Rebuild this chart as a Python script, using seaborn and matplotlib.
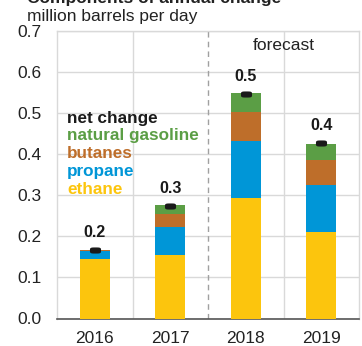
import numpy as np
import pandas as pd
import matplotlib
matplotlib.use("Agg")
import matplotlib.pyplot as plt
import seaborn as sns

# ---- data (million barrels per day) ----
years = ["2016", "2017", "2018", "2019"]
ethane = [0.145, 0.154, 0.293, 0.210]
propane = [0.020, 0.070, 0.138, 0.115]
butanes = [0.003, 0.031, 0.072, 0.062]
gasoline = [0.000, 0.021, 0.045, 0.038]
net_change = [0.168, 0.275, 0.547, 0.427]
yticks = [0.0, 0.1, 0.2, 0.3, 0.4, 0.5, 0.6, 0.7]

series_names = ["ethane", "propane", "butanes", "natural gasoline"]
series_vals = [ethane, propane, butanes, gasoline]
colors = {"ethane": "#FCC50D", "propane": "#0096D7",
          "butanes": "#BE6E2A", "natural gasoline": "#5B9E45"}

sns.set_theme(style="white")
plt.rcParams["font.family"] = ["Liberation Sans", "DejaVu Sans"]
FS = 12.5

fig = plt.figure(figsize=(3.62, 3.46), dpi=100)
ax = fig.add_axes([57 / 362, 1 - 318.5 / 346, 302 / 362, (318.5 - 31) / 346])

cum = np.zeros(len(years))
cums = []
for name, vals in zip(series_names, series_vals):
    cum = cum + np.array(vals)
    cums.append(cum.copy())

# draw stacked bars from the top layer down so each lower layer overlays
for name, c in reversed(list(zip(series_names, cums))):
    sns.barplot(x=years, y=c, color=colors[name], saturation=1, width=0.4,
                order=years, errorbar=None, linewidth=0, ax=ax, zorder=3)

# net change markers (rounded horizontal blob)
t = np.linspace(0, 2 * np.pi, 60)
mx = np.sign(np.cos(t)) * np.abs(np.cos(t)) ** 0.5
my = 0.55 * np.sign(np.sin(t)) * np.abs(np.sin(t)) ** 0.5
blob = np.column_stack([mx, my])
sns.pointplot(x=years, y=net_change, order=years, linestyle="none",
              marker=blob, markersize=8, markeredgewidth=0,
              color="#1a1a1a", errorbar=None, ax=ax, zorder=5)

for i, v in enumerate(net_change):
    ax.annotate(f"{v:.1f}", xy=(i, v), xytext=(0, 12.5), textcoords="offset points",
                ha="center", va="center", fontsize=FS - 1, fontweight="bold",
                color="#1a1a1a")

ax.set_xlim(-0.5, 3.5)
ax.set_ylim(0, 0.7)
ax.set_yticks(yticks)
ax.set_yticklabels([f"{v:.1f}" for v in yticks])
ax.set_xlabel("")
ax.set_ylabel("")

# grid
ax.set_axisbelow(True)
ax.yaxis.grid(True, color="#d9d9d9", linewidth=1)
ax.set_xticks([-0.5, 0.5, 1.5, 2.5, 3.5], minor=True)
ax.xaxis.grid(False, which="major")
for xv in [0.5, 2.5]:
    ax.axvline(xv, color="#d9d9d9", linewidth=1, zorder=0)
ax.axvline(1.5, color="#a0a0a0", linestyle=(0, (4, 3)), linewidth=1, zorder=2)

for s in ["top", "left", "right"]:
    ax.spines[s].set_color("#d9d9d9")
    ax.spines[s].set_linewidth(1)
ax.spines["bottom"].set_color("#555555")
ax.spines["bottom"].set_linewidth(1.2)

ax.tick_params(axis="y", length=0, pad=11, labelsize=FS, labelcolor="#222222")
ax.tick_params(axis="x", which="major", length=0, pad=9, labelsize=FS, labelcolor="#222222")
ax.tick_params(axis="x", which="minor", length=4, width=1, color="#555555", direction="out")

# forecast note
ax.text(2.5, 0.665, "forecast", ha="center", va="center", fontsize=FS, color="#222222")

# legend as coloured text
leg = [("net change", "#1a1a1a"), ("natural gasoline", colors["natural gasoline"]),
       ("butanes", colors["butanes"]), ("propane", colors["propane"]),
       ("ethane", colors["ethane"])]
for k, (lab, col) in enumerate(leg):
    fig.text(67 / 362, 1 - (122.7 + 17.7 * k) / 346, lab, ha="left", va="baseline",
             fontsize=FS - 0.2, fontweight="bold", color=col)

fig.text(27 / 362, 1 - 21 / 346, "million barrels per day", ha="left", va="baseline",
         fontsize=FS, color="#222222")
fig.text(27 / 362, 1 - 3.5 / 346, "Components of annual change", ha="left", va="baseline",
         fontsize=FS, fontweight="bold", color="#222222")

fig.savefig("out.png", dpi=100)
